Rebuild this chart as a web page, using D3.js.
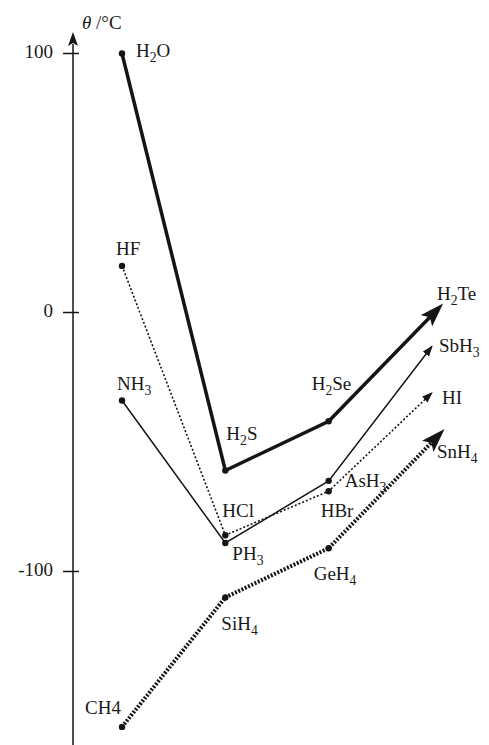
<!DOCTYPE html>
<html>
<head>
<meta charset="utf-8">
<script src="https://cdn.jsdelivr.net/npm/d3@7"></script>
<style>
  html, body { margin: 0; padding: 0; background: #fff; }
  svg { display: block; }
  text { font-family: "Liberation Serif", "Times New Roman", serif; fill: #1a1a1a; }
</style>
</head>
<body>
<svg id="chart" width="489" height="745"></svg>
<script>
// ---- data (boiling points, °C) ----
const periods = [2, 3, 4, 5];
const yTicks = [100, 0, -100];

const group14 = ["CH4", "SiH_4", "GeH_4", "SnH_4"];
const bp14 = [-160, -110, -91, -50];

const group15 = ["NH_3", "PH_3", "AsH_3", "SbH_3"];
const bp15 = [-34, -89, -65, -13];

const group16 = ["H_2O", "H_2S", "H_2Se", "H_2Te"];
const bp16 = [100, -61, -42, -1];

const group17 = ["HF", "HCl", "HBr", "HI"];
const bp17 = [18, -86, -69, -31];

// ---- drawing ----
const svg = d3.select("#chart");
const x = d3.scaleLinear().domain([2, 5]).range([122, 432]);
const y = d3.scaleLinear().domain([100, -100]).range([53.5, 571.5]);
const axisX = 73;
const FS = 19;
const ink = "#151515";

const defs = svg.append("defs");
function marker(id, path, refX, w, h) {
  defs.append("marker")
    .attr("id", id)
    .attr("markerUnits", "userSpaceOnUse")
    .attr("viewBox", `0 ${-h} ${w} ${2 * h}`)
    .attr("refX", refX).attr("refY", 0)
    .attr("markerWidth", w).attr("markerHeight", 2 * h)
    .attr("orient", "auto")
    .append("path").attr("d", path).attr("fill", ink);
}
marker("bigArrow", "M0,-8 L24,0 L0,8 L5,0 Z", 8, 24, 8);
marker("bigArrow2", "M0,-8 L24,0 L0,8 L5,0 Z", 6, 24, 8);
marker("smallArrow", "M0,-4 L11,0 L0,4 Z", 10, 11, 4);
marker("axisArrow", "M0,-5 L14,0 L0,5 L3,0 Z", 2, 14, 5);

// axis
svg.append("line")
  .attr("x1", axisX).attr("x2", axisX)
  .attr("y1", 745).attr("y2", 44)
  .attr("stroke", ink).attr("stroke-width", 1.5)
  .attr("marker-end", "url(#axisArrow)");

svg.selectAll(".tick").data(yTicks).enter().append("line")
  .attr("x1", axisX - 10).attr("x2", axisX + 6)
  .attr("y1", d => y(d)).attr("y2", d => y(d))
  .attr("stroke", ink).attr("stroke-width", 1.5);

svg.selectAll(".ticklabel").data(yTicks).enter().append("text")
  .attr("x", axisX - 20).attr("y", d => y(d) + 4)
  .attr("text-anchor", "end").attr("font-size", FS)
  .text(d => d);

const title = svg.append("text").attr("x", 82).attr("y", 29).attr("font-size", FS);
title.append("tspan").attr("font-style", "italic").text("θ");
title.append("tspan").text(" /°C");

// series
const series = [
  { names: group14, vals: bp14, width: 4, dash: "2,1.6", end: "bigArrow2" },
  { names: group15, vals: bp15, width: 1.5, dash: null, end: "smallArrow" },
  { names: group16, vals: bp16, width: 3.5, dash: null, end: "bigArrow" },
  { names: group17, vals: bp17, width: 1.6, dash: "2,2", end: "smallArrow" }
];

const line = d3.line().x(d => x(d.p)).y(d => y(d.v));

// label offsets (baseline start relative to each point)
const labelOffset = {
  "H_2O": [14, 3], "H_2S": [1, -30], "H_2Se": [-17, -31], "H_2Te": [5, -15],
  "HF": [-6, -11], "HCl": [-3, -18], "HBr": [-8, 26], "HI": [10, 11],
  "NH_3": [-5, -11], "PH_3": [7, 17], "AsH_3": [16, 6], "SbH_3": [7, 6],
  "CH4": [-37, -13], "SiH_4": [-4, 33], "GeH_4": [-15, 32], "SnH_4": [5, 16]
};

function addLabel(name, px, py) {
  const off = labelOffset[name] || [6, 6];
  const t = svg.append("text").attr("x", px + off[0]).attr("y", py + off[1]).attr("font-size", FS);
  const parts = name.split("_");
  t.append("tspan").text(parts[0]);
  for (let i = 1; i < parts.length; i++) {
    const sub = parts[i].charAt(0);
    const rest = parts[i].slice(1);
    t.append("tspan").attr("font-size", FS * 0.72).attr("dy", 5).text(sub);
    if (rest) t.append("tspan").attr("dy", -5).text(rest);
  }
}

series.forEach(s => {
  const pts = s.vals.map((v, i) => ({ p: periods[i], v, name: s.names[i] }));
  svg.append("path")
    .datum(pts)
    .attr("d", line)
    .attr("fill", "none")
    .attr("stroke", ink)
    .attr("stroke-width", s.width)
    .attr("stroke-linejoin", "miter")
    .attr("stroke-dasharray", s.dash)
    .attr("marker-end", `url(#${s.end})`);
  svg.selectAll(null).data(pts.slice(0, 3)).enter().append("circle")
    .attr("cx", d => x(d.p)).attr("cy", d => y(d.v))
    .attr("r", 3.2).attr("fill", ink);
  pts.forEach(d => addLabel(d.name, x(d.p), y(d.v)));
});
</script>
</body>
</html>
